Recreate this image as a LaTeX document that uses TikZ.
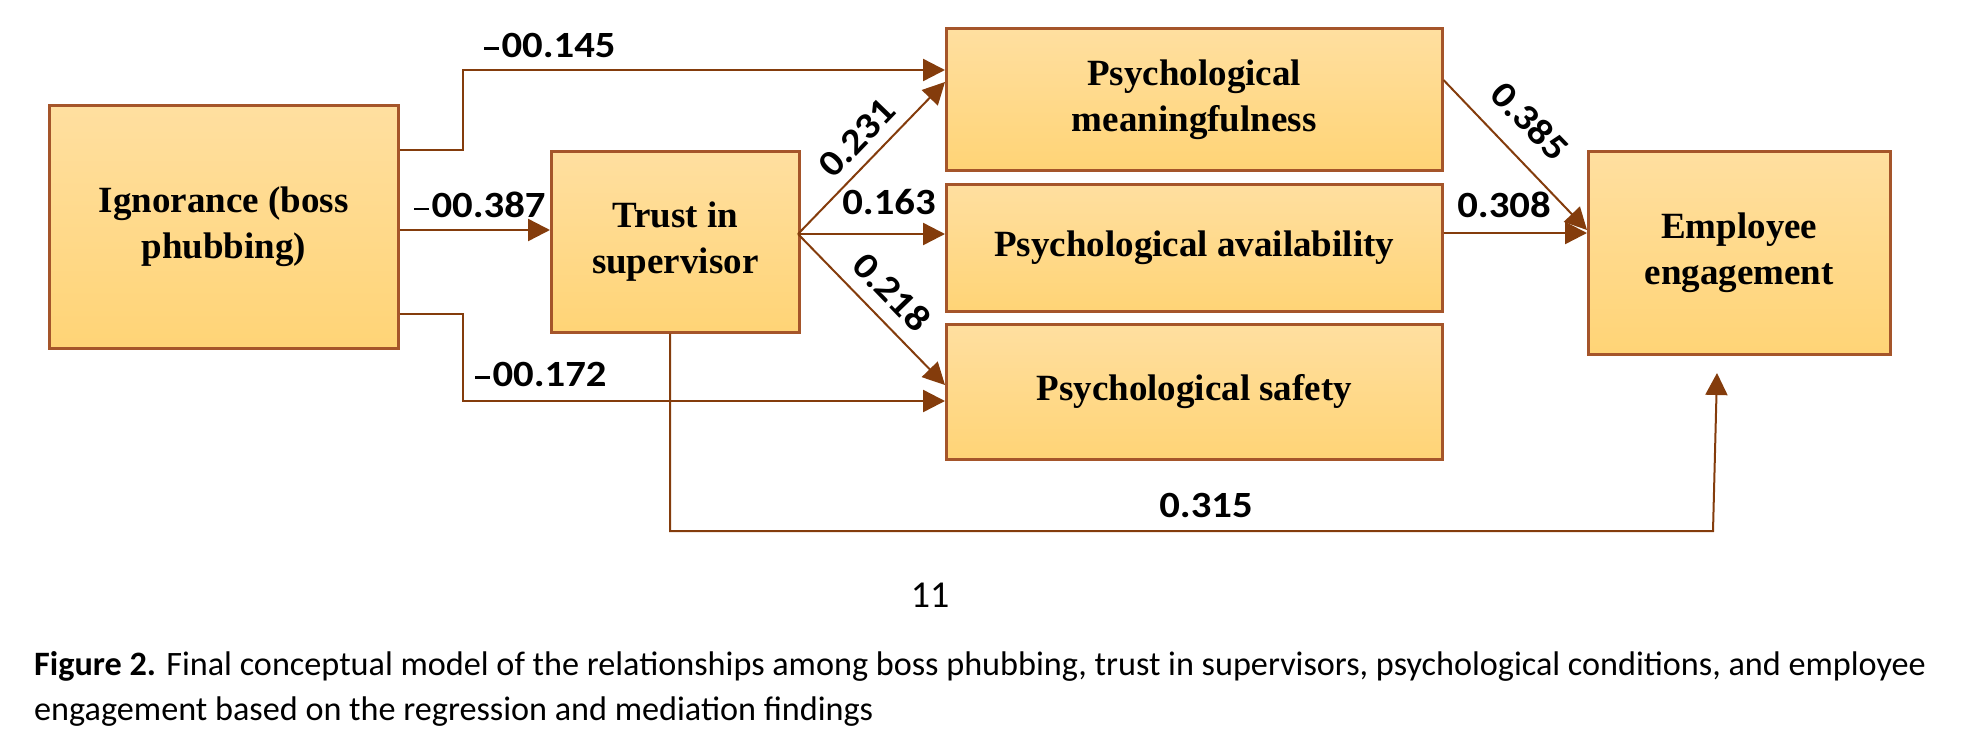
\documentclass[tikz,border=0pt]{standalone}
\usepackage{fontspec}
\setmainfont{Liberation Serif}
\newfontfamily\labfont[FakeStretch=1.1]{Carlito}
\newfontfamily\capfont{Carlito}
\usetikzlibrary{arrows.meta}
\definecolor{arr}{RGB}{132,60,12}
\definecolor{bord}{RGB}{165,85,42}
\definecolor{ftop}{RGB}{255,223,160}
\definecolor{fbot}{RGB}{255,212,118}
\newcommand{\smdash}{\rule[0.2em]{0.4em}{0.07em}\kern0.06em}
\begin{document}
\begin{tikzpicture}[x=1pt,y=-1pt,
  box/.style={draw=bord,line width=2.5pt,top color=ftop,bottom color=fbot,anchor=north west,inner sep=0pt,align=center,font=\fontsize{37}{46}\selectfont\bfseries},
  lab/.style={inner sep=0pt,font=\labfont\fontsize{37}{44}\selectfont\bfseries},
  con/.style={draw=arr,line width=2.4pt},
  thincon/.style={draw=arr,line width=2pt},
  tip/.style={-{Triangle[length=22pt,width=22pt]}},
  captext/.style={anchor=base west,inner sep=0pt,font=\capfont\fontsize{34.2}{40}\selectfont}]
\useasboundingbox (0,0) rectangle (1962,753);

% boxes
\node[box,minimum width=349pt,minimum height=243pt] (ign) at (48,104) {Ignorance (boss\\phubbing)};
\node[box,minimum width=248pt,minimum height=181pt] (trust) at (550,150) {Trust in\\supervisor};
\node[box,minimum width=496pt,minimum height=142pt] (mean) at (945,27) {Psychological\\meaningfulness};
\node[box,minimum width=496pt,minimum height=127pt] (avail) at (945,183) {Psychological availability};
\node[box,minimum width=496pt,minimum height=135pt] (safe) at (945,323) {Psychological safety};
\node[box,minimum width=302pt,minimum height=203pt] (emp) at (1587,150) {Employee\\engagement};

% helper coordinates
\coordinate (h150) at (0,150);
\coordinate (h230) at (0,230);
\coordinate (h314) at (0,314);
\coordinate (k1) at (463,70);
\coordinate (k2) at (463,401);
\coordinate (fan) at (798,234);
\coordinate (h82) at (0,82);
\coordinate (h385) at (0,385);
\coordinate (h80) at (0,80);
\coordinate (h233) at (0,233);
\coordinate (b1) at (670,531);
\coordinate (b2) at (1713,531);
\coordinate (b3) at (1717,373);

% connectors
\draw[con,tip] (ign.east |- h150) -| (k1) -- (mean.west |- k1);
\draw[con,tip] (ign.east |- h230) -- (trust.west |- h230);
\draw[con,tip] (ign.east |- h314) -| (k2) -- (safe.west |- k2);
\draw[thincon,tip] (fan) -- (mean.west |- h82);
\draw[con,tip] (fan) -- (avail.west |- fan);
\draw[thincon,tip] (fan) -- (safe.west |- h385);
\draw[thincon,tip] (mean.east |- h80) -- (emp.west |- h230);
\draw[con,tip] (avail.east |- h233) -- (emp.west |- h233);
\draw[thincon,tip] (trust.south -| b1) -- (b1) -- (b2) -- (b3);

% labels
\node[lab] (l1) at (550,45) {\smdash 00.145};
\node[lab] (l2) at (480,205) {\smdash 00.387};
\node[lab] (l3) at (541,374) {\smdash 00.172};
\node[lab,rotate=46] (l4) at (857,138) {0.231};
\node[lab] (l5) at (889,202) {0.163};
\node[lab,rotate=-46] (l6) at (892,292) {0.218};
\node[lab,rotate=-46] (l7) at (1530,121) {0.385};
\node[lab] (l8) at (1504,205) {0.308};
\node[lab] (l9) at (1206,505) {0.315};

% page number and caption
\node[inner sep=0pt,font=\capfont\fontsize{38}{44}\selectfont] (pg) at (930,595) {11};
\node[captext] (cap1) at (34,675) {\textbf{Figure 2.} Final conceptual model of the relationships among boss phubbing, trust in supervisors, psychological conditions, and employee};
\node[captext] (cap2) at (34,720) {engagement based on the regression and mediation findings};
\end{tikzpicture}
\end{document}
